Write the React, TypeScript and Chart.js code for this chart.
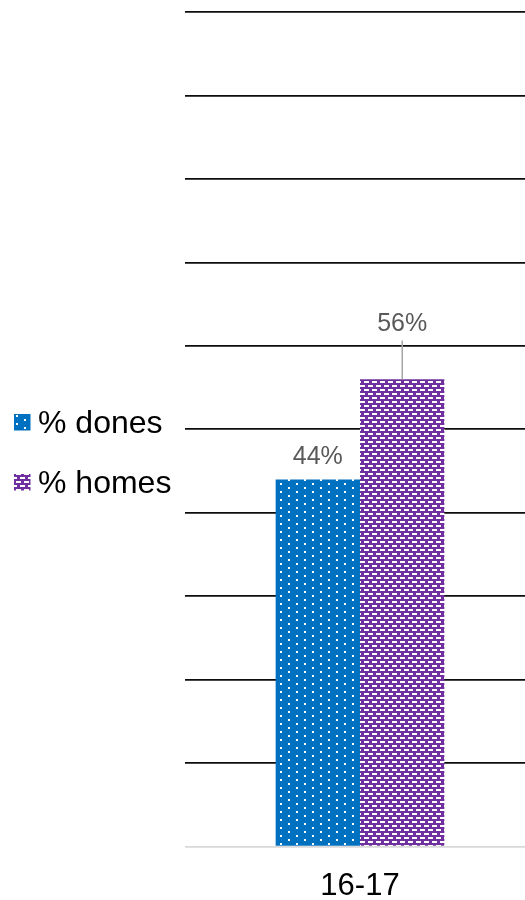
import React, { useEffect, useRef } from "react";
import { Chart, registerables } from "chart.js";

Chart.register(...registerables);

// ---- data ----
const categories = ["16-17"];
const seriesNames = ["% dones", "% homes"];
const donesValues = [0.44];
const homesValues = [0.56];
const yMin = 0;
const yMax = 1;
const yStep = 0.1;

const FONT = "'Liberation Sans', Arial, sans-serif";

function makeDots(bg: string): CanvasPattern | string {
  const c = document.createElement("canvas");
  c.width = 16;
  c.height = 8;
  const g = c.getContext("2d");
  if (!g) return bg;
  g.fillStyle = bg;
  g.fillRect(0, 0, 16, 8);
  g.fillStyle = "#ffffff";
  g.fillRect(8, 3, 2, 2);
  g.fillRect(0, 7, 2, 1);
  g.fillRect(0, 0, 2, 1);
  return g.createPattern(c, "repeat") || bg;
}

function makeBricks(bg: string): CanvasPattern | string {
  const c = document.createElement("canvas");
  c.width = 8;
  c.height = 8;
  const g = c.getContext("2d");
  if (!g) return bg;
  g.fillStyle = bg;
  g.fillRect(0, 0, 8, 8);
  g.fillStyle = "#ffffff";
  g.fillRect(0, 1, 5, 2);
  g.fillRect(4, 5, 4, 2);
  g.fillRect(0, 5, 1, 2);
  return g.createPattern(c, "repeat") || bg;
}

// label lift (extra distance above the bar for moved labels, with leader line)
const labelLift = [0, 32.6];

const barLabelPlugin = {
  id: "barLabelPlugin",
  afterDatasetsDraw(chart: any) {
    const ctx: CanvasRenderingContext2D = chart.ctx;
    ctx.save();
    ctx.font = `25px ${FONT}`;
    ctx.textAlign = "center";
    ctx.textBaseline = "alphabetic";
    chart.data.datasets.forEach((ds: any, di: number) => {
      const meta = chart.getDatasetMeta(di);
      meta.data.forEach((bar: any, i: number) => {
        const v = ds.data[i] as number;
        const lift = labelLift[di] || 0;
        const baseline = bar.y - 15.7 - lift;
        if (lift > 0) {
          ctx.strokeStyle = "#a6a6a6";
          ctx.lineWidth = 1.5;
          ctx.beginPath();
          ctx.moveTo(Math.round(bar.x) + 0.25, baseline + 9.5);
          ctx.lineTo(Math.round(bar.x) + 0.25, bar.y);
          ctx.stroke();
        }
        ctx.fillStyle = "#595959";
        ctx.fillText(`${Math.round(v * 100)}%`, bar.x, baseline);
      });
    });
    ctx.restore();
  },
};

const sideLegendPlugin = {
  id: "sideLegendPlugin",
  afterDraw(chart: any) {
    const ctx: CanvasRenderingContext2D = chart.ctx;
    ctx.save();
    ctx.font = `32px ${FONT}`;
    ctx.textAlign = "left";
    ctx.textBaseline = "alphabetic";
    chart.data.datasets.forEach((ds: any, di: number) => {
      const boxTop = 414 + di * 60;
      ctx.fillStyle = ds.backgroundColor;
      ctx.fillRect(14, boxTop, 16.5, 16.5);
      ctx.fillStyle = "#000000";
      ctx.fillText(ds.label, 38, boxTop + 19.3);
    });
    ctx.restore();
  },
};

export default function App() {
  const ref = useRef<HTMLCanvasElement | null>(null);

  useEffect(() => {
    if (!ref.current) return;
    const blue = makeDots("#0070c0");
    const purple = makeBricks("#7030a0");
    const chart = new Chart(ref.current, {
      type: "bar",
      data: {
        labels: categories,
        datasets: [
          {
            label: seriesNames[0],
            data: donesValues,
            backgroundColor: blue as any,
            borderWidth: 0,
            categoryPercentage: 0.482,
            barPercentage: 1,
          },
          {
            label: seriesNames[1],
            data: homesValues,
            backgroundColor: purple as any,
            borderWidth: 0,
            categoryPercentage: 0.482,
            barPercentage: 1,
          },
        ],
      },
      options: {
        animation: false,
        responsive: false,
        devicePixelRatio: window.devicePixelRatio || 1,
        layout: { padding: { left: 185, top: 12, right: 0, bottom: 0 } },
        plugins: {
          legend: { display: false },
          tooltip: { enabled: false },
        },
        scales: {
          x: {
            grid: { display: false, drawTicks: false },
            border: { display: false },
            ticks: {
              color: "#000000",
              font: { family: FONT, size: 31 },
              padding: 21,
            },
            afterFit(scale: any) {
              scale.height = 53.3;
            },
          },
          y: {
            min: yMin,
            max: yMax,
            ticks: { display: false, stepSize: yStep },
            border: { display: false },
            grid: {
              drawTicks: false,
              lineWidth: 1.8,
              color: (c: any) => (c.tick && c.tick.value === 0 ? "#d9d9d9" : "#0d0d0d"),
            },
            afterFit(scale: any) {
              scale.width = 0;
            },
          },
        },
      },
      plugins: [barLabelPlugin, sideLegendPlugin],
    });
    return () => chart.destroy();
  }, []);

  return (
    <div
      style={{
        position: "fixed",
        left: 0,
        top: 0,
        width: 525,
        height: 900,
        overflow: "hidden",
        background: "#ffffff",
      }}
    >
      <canvas ref={ref} width={535} height={900} style={{ display: "block" }} />
    </div>
  );
}
